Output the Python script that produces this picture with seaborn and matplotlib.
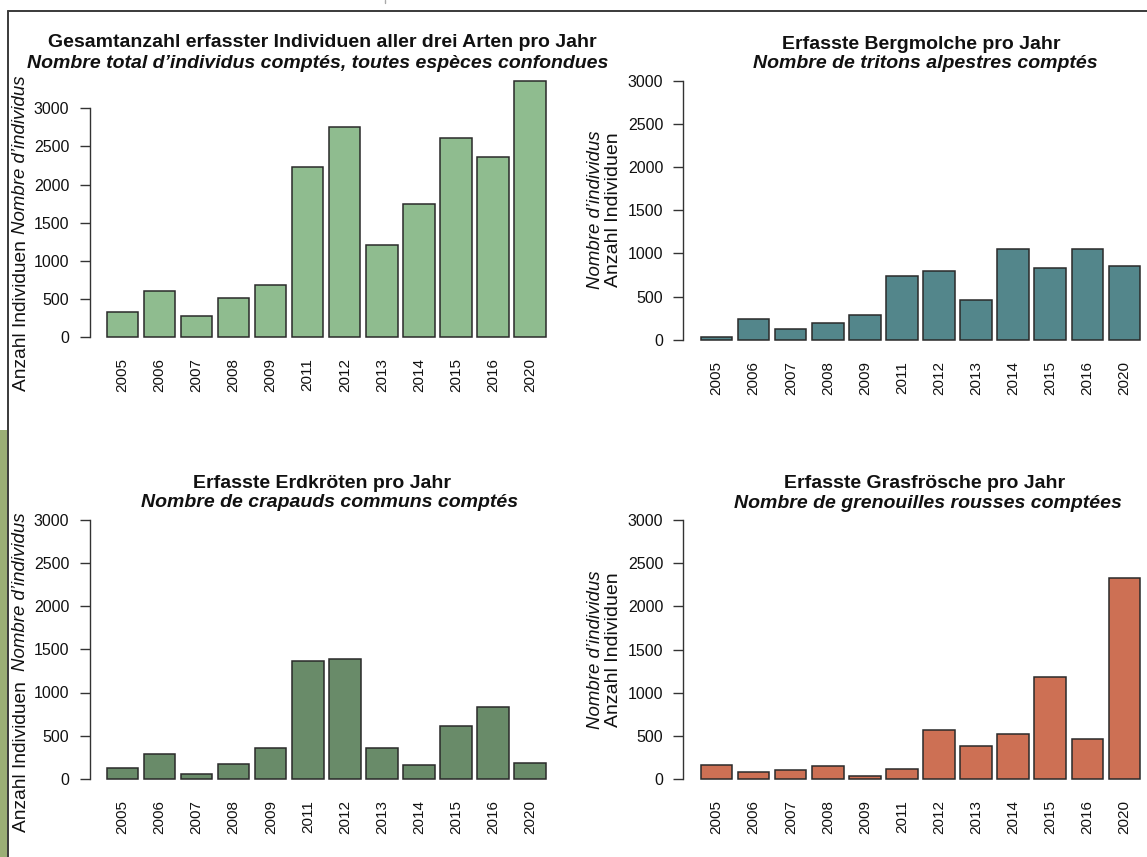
import matplotlib
matplotlib.use("Agg")
import matplotlib.pyplot as plt
import seaborn as sns
from matplotlib.lines import Line2D
from matplotlib.patches import Rectangle

# ---------------- data ----------------
years = ['2005', '2006', '2007', '2008', '2009', '2011', '2012', '2013',
         '2014', '2015', '2016', '2020']
total = [327, 607, 275, 520, 686, 2227, 2760, 1214, 1742, 2611, 2367, 3358]
bergmolch = [35, 236, 120, 189, 290, 738, 800, 464, 1051, 827, 1055, 858]
erdkroete = [131, 289, 54, 173, 362, 1367, 1386, 358, 162, 612, 836, 181]
grasfrosch = [158, 81, 104, 154, 31, 120, 571, 386, 525, 1178, 467, 2328]
yticks = [0, 500, 1000, 1500, 2000, 2500, 3000]

titles_de = ["Gesamtanzahl erfasster Individuen aller drei Arten pro Jahr",
             "Erfasste Bergmolche pro Jahr",
             "Erfasste Erdkröten pro Jahr",
             "Erfasste Grasfrösche pro Jahr"]
titles_fr = ["Nombre total d\u2019individus comptés, toutes espèces confondues",
             "Nombre de tritons alpestres comptés",
             "Nombre de crapauds communs comptés",
             "Nombre de grenouilles rousses comptées"]
ylab_de = "Anzahl Individuen"
ylab_fr = "Nombre d\u2019individus"

colors = ['#8FBC8F', '#53868B', '#698B69', '#CD7054']

# ---------------- figure ----------------
sns.set_theme(style="white")
plt.rcParams['font.family'] = ['Liberation Sans', 'DejaVu Sans']

W, H = 1147, 857
fig = plt.figure(figsize=(W / 100, H / 100), dpi=100)
fig.patch.set_facecolor('white')


def fx(x):
    return x / W


def fy(y):
    return 1 - y / H


# panel geometry in pixels: spine x, first bar centre, pitch, y of 0, y of 3000, ylim top
geo = [
    dict(spine=89.5, cx0=122.5, pitch=37.05, y0=337.3, y3k=108.3, hi=3500),
    dict(spine=683.3, cx0=716.7, pitch=37.05, y0=339.7, y3k=81.0, hi=3050),
    dict(spine=89.5, cx0=122.6, pitch=37.05, y0=779.0, y3k=519.5, hi=3050),
    dict(spine=683.3, cx0=716.7, pitch=37.05, y0=779.0, y3k=520.0, hi=3050),
]
series = [total, bergmolch, erdkroete, grasfrosch]

for i, (g, vals, col) in enumerate(zip(geo, series, colors)):
    s = (g['y0'] - g['y3k']) / 3000.0
    gap = 8
    lo = -gap / s
    top_px = g['y0'] - g['hi'] * s
    bot_px = g['y0'] + gap
    right_px = g['cx0'] + 11 * g['pitch'] + (g['cx0'] - g['spine'])
    ax = fig.add_axes([fx(g['spine']), fy(bot_px),
                       (right_px - g['spine']) / W, (bot_px - top_px) / H])
    ax.patch.set_alpha(0)
    sns.barplot(x=years, y=vals, color=col, saturation=1, width=0.845,
                edgecolor='#2a2a2a', linewidth=1.1, ax=ax)
    ax.set_xlim((g['spine'] - g['cx0']) / g['pitch'],
                11 + (g['cx0'] - g['spine']) / g['pitch'])
    ax.set_ylim(lo, g['hi'])
    ax.set_xlabel('')
    ax.set_ylabel('')
    for sp in ['top', 'right', 'bottom']:
        ax.spines[sp].set_visible(False)
    ax.spines['left'].set_bounds(0, 3000)
    ax.spines['left'].set_color('#333333')
    ax.spines['left'].set_linewidth(1.0)
    ax.set_yticks(yticks)
    ax.set_yticklabels([str(v) for v in yticks])
    ax.tick_params(axis='y', direction='out', length=7.5, width=1.0,
                   color='#333333', pad=7.0, labelsize=11.5, labelcolor='#111111',
                   left=True)
    label_top = g['y0'] + 21
    ax.tick_params(axis='x', length=0, pad=(label_top - bot_px) * 0.72,
                   labelsize=11, labelcolor='#111111', labelrotation=90)
    ax.grid(False)

# ---------------- titles ----------------
title_pos = [(322, 47, 318, 68), (921, 49, 925, 68),
             (322, 488, 330, 507), (925, 488, 928, 508)]
for (tx, ty, sx, sy), td, tf in zip(title_pos, titles_de, titles_fr):
    fig.text(fx(tx), fy(ty), td, ha='center', va='baseline',
             fontsize=14, fontweight='bold', color='#111111')
    fig.text(fx(sx), fy(sy), tf, ha='center', va='baseline',
             fontsize=14, fontweight='bold', fontstyle='italic', color='#111111')

# ---------------- y labels ----------------
# panels 1 and 3: both parts along one line
for yc_de, yc_fr in [(316, 155), (757, 592)]:
    fig.text(fx(22), fy(yc_de), ylab_de, rotation=90, ha='center', va='center',
             fontsize=13.8, color='#111111')
    fig.text(fx(21), fy(yc_fr), ylab_fr, rotation=90, ha='center', va='center',
             fontsize=13.4, fontstyle='italic', color='#111111')
# panels 2 and 4: two stacked lines
for yc in [210, 650]:
    fig.text(fx(596), fy(yc), ylab_fr, rotation=90, ha='center', va='center',
             fontsize=13.4, fontstyle='italic', color='#111111')
    fig.text(fx(613), fy(yc), ylab_de, rotation=90, ha='center', va='center',
             fontsize=14, color='#111111')

# ---------------- screenshot frame ----------------
fig.add_artist(Rectangle((0, 0), fx(7.5), fy(430), transform=fig.transFigure,
                         facecolor='#9BAE76', edgecolor='none'))
fig.add_artist(Line2D([fx(8), 1], [fy(11), fy(11)], transform=fig.transFigure,
                      color='#3a3a3a', linewidth=1.4))
fig.add_artist(Line2D([fx(8), fx(8)], [fy(11), 0], transform=fig.transFigure,
                      color='#3a3a3a', linewidth=1.4))
fig.add_artist(Line2D([fx(385), fx(385)], [1, fy(3)], transform=fig.transFigure,
                      color='#aaaaaa', linewidth=1.0))

fig.savefig("out.png", dpi=100)
